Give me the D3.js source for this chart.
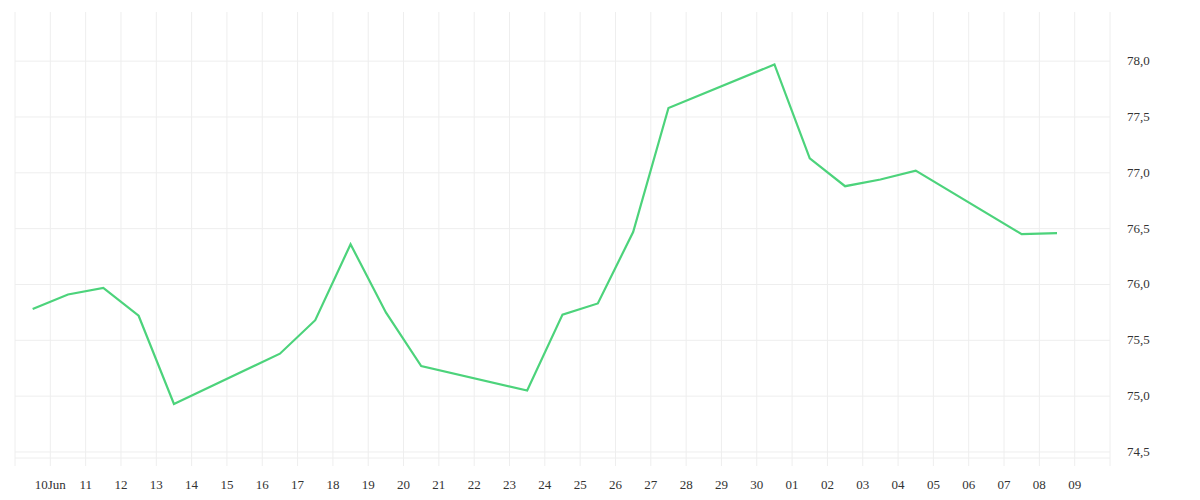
<!DOCTYPE html>
<html><head><meta charset="utf-8">
<script src="https://cdn.jsdelivr.net/npm/d3@7"></script>
<style>body{margin:0;background:#fff}svg text{font-family:"Liberation Serif","DejaVu Serif",serif;fill:#333}</style>
</head><body><svg id="c" width="1200" height="500"></svg>
<script>
const dates = ["2024-06-09","2024-06-10","2024-06-11","2024-06-12","2024-06-13","2024-06-16","2024-06-17","2024-06-18","2024-06-19","2024-06-20","2024-06-23","2024-06-24","2024-06-25","2024-06-26","2024-06-27","2024-06-30","2024-07-01","2024-07-02","2024-07-03","2024-07-04","2024-07-07","2024-07-08"];
const values = [75.78,75.91,75.97,75.72,74.93,75.38,75.68,76.36,75.75,75.27,75.05,75.73,75.83,76.47,77.58,77.97,77.13,76.88,76.94,77.02,76.45,76.46];
const yTicks = [74.5,75.0,75.5,76.0,76.5,77.0,77.5,78.0];

const svg = d3.select("#c");
const parse = d3.timeParse("%Y-%m-%d");
const x = d3.scaleTime().domain([parse("2024-06-09"), parse("2024-07-10")]).range([15,1110]);
const y = d3.scaleLinear().domain([74.446,78.44]).range([458,12]);
const days = d3.timeDay.range(parse("2024-06-09"), parse("2024-07-11"));
const g = svg.append("g");
g.selectAll(".v").data(days).join("line").attr("x1",d=>x(d)).attr("x2",d=>x(d)).attr("y1",12).attr("y2",466).attr("stroke","#eee");
g.selectAll(".h").data(yTicks.concat([74.446])).join("line").attr("x1",15).attr("x2",1110).attr("y1",d=>y(d)).attr("y2",d=>y(d)).attr("stroke","#eee");
const labelDays = days.slice(1,31);
svg.selectAll(".xl").data(labelDays).join("text").attr("x",d=>x(d)).attr("y",489).attr("text-anchor","middle").attr("font-size",13)
  .text(d=>d.getDate()===10&&d.getMonth()===5?"10Jun":d3.timeFormat("%d")(d));
svg.selectAll(".yl").data(yTicks).join("text").attr("x",1127).attr("y",d=>y(d)+4).attr("font-size",13)
  .text(d=>d.toFixed(1).replace(".",","));
const pts = dates.map((d,i)=>({t:d3.timeHour.offset(parse(d),12),v:values[i]}));
svg.append("path").datum(pts).attr("fill","none").attr("stroke","#4cd37b").attr("stroke-width",2.2)
  .attr("d",d3.line().x(d=>x(d.t)).y(d=>y(d.v)));
</script></body></html>
